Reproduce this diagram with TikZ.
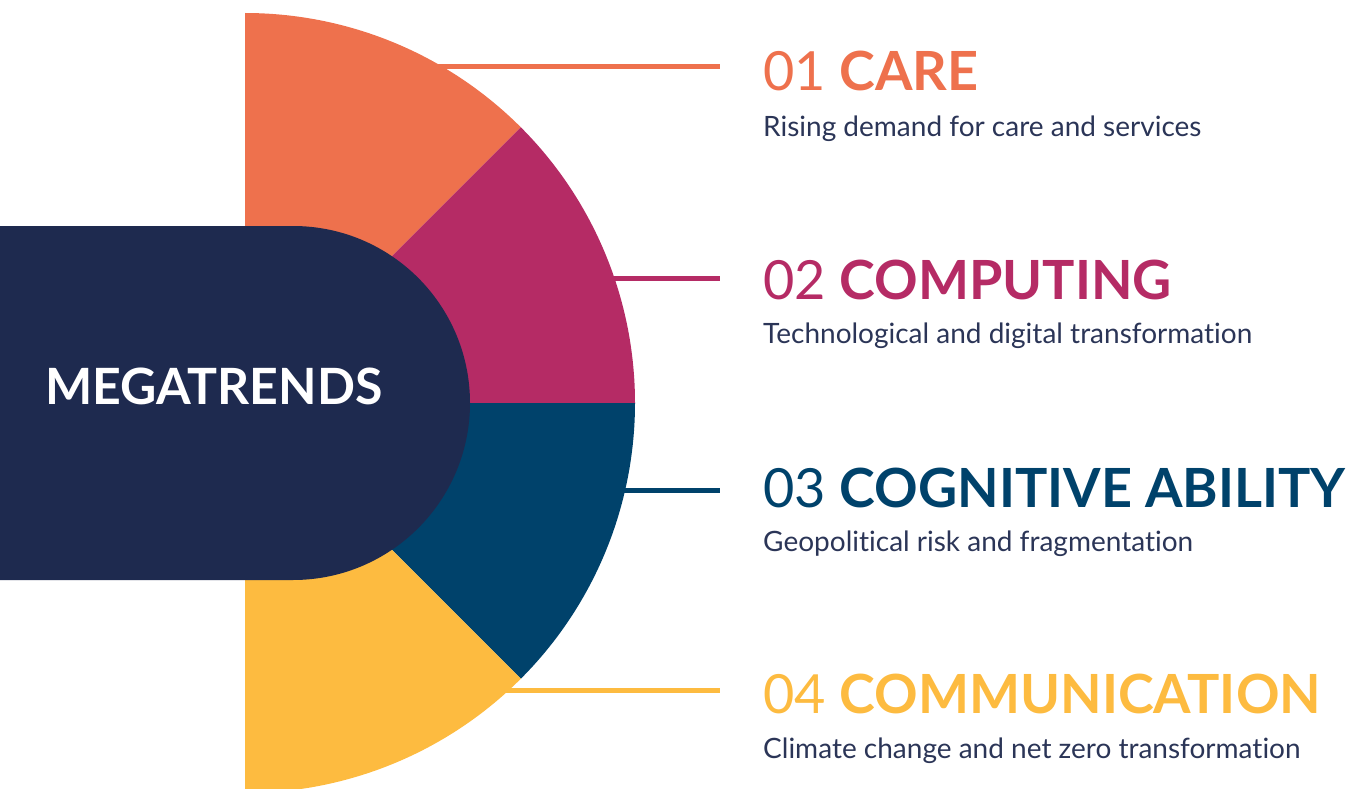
\documentclass[tikz,border=0pt]{standalone}
\usepackage{fontspec}
\setmainfont{Lato}[Ligatures=NoCommon]
\definecolor{careC}{HTML}{EE714D}
\definecolor{compC}{HTML}{B52B65}
\definecolor{cognC}{HTML}{00426B}
\definecolor{commC}{HTML}{FDBB40}
\definecolor{navyC}{HTML}{1E2A4F}
\definecolor{subC}{HTML}{2B3557}
\tikzset{
  trendline/.style={line width=5pt},
  trendtitle/.style={anchor=base west, inner sep=0pt, font=\fontsize{54}{60}\selectfont},
  trendsub/.style={anchor=base west, inner sep=0pt, text=subC, font=\fontsize{28}{32}\selectfont},
}
\begin{document}
\begin{tikzpicture}[x=1pt,y=-1pt]
\useasboundingbox (0,0) rectangle (1360,789);
\coordinate (hub) at (245,403);
\coordinate (careStart) at (245,67);
\coordinate (careEnd) at (720,67);
\coordinate (compStart) at (245,278);
\coordinate (compEnd) at (720,278);
\coordinate (cognStart) at (245,490);
\coordinate (cognEnd) at (720,490);
\coordinate (commStart) at (245,690);
\coordinate (commEnd) at (720,690);
\draw[trendline,careC] (careStart) -- (careEnd);
\draw[trendline,compC] (compStart) -- (compEnd);
\draw[trendline,cognC] (cognStart) -- (cognEnd);
\draw[trendline,commC] (commStart) -- (commEnd);
\fill[careC] (hub) -- ++(0,-390) arc[start angle=-90,end angle=-45,radius=390] -- cycle;
\fill[compC] (hub) -- ++(-45:390) arc[start angle=-45,end angle=0,radius=390] -- cycle;
\fill[cognC] (hub) -- ++(390,0) arc[start angle=0,end angle=45,radius=390] -- cycle;
\fill[commC] (hub) -- ++(45:390) arc[start angle=45,end angle=90,radius=390] -- cycle;
\fill[navyC] (0,226) -- (293,226) arc[start angle=-90,end angle=90,radius=177] -- (0,580) -- cycle;
\node[anchor=base west, inner sep=0pt, text=white, font=\fontsize{50}{54}\selectfont\bfseries] (mega) at (45,404) {MEGATRENDS};
\node[trendtitle,text=careC] (care) at (763,91) {01 \textbf{CARE}};
\node[trendsub] (careSub) at (763,136) {Rising demand for care and services};
\node[trendtitle,text=compC] (comp) at (763,299) {02 \textbf{COMPUTING}};
\node[trendsub] (compSub) at (763,343) {Technological and digital transformation};
\node[trendtitle,text=cognC] (cogn) at (763,507) {03 \textbf{COGNITIVE ABILITY}};
\node[trendsub] (cognSub) at (763,551) {Geopolitical risk and fragmentation};
\node[trendtitle,text=commC] (comm) at (763,713) {04 \textbf{COMMUNICATION}};
\node[trendsub] (commSub) at (763,758) {Climate change and net zero transformation};
\end{tikzpicture}
\end{document}
